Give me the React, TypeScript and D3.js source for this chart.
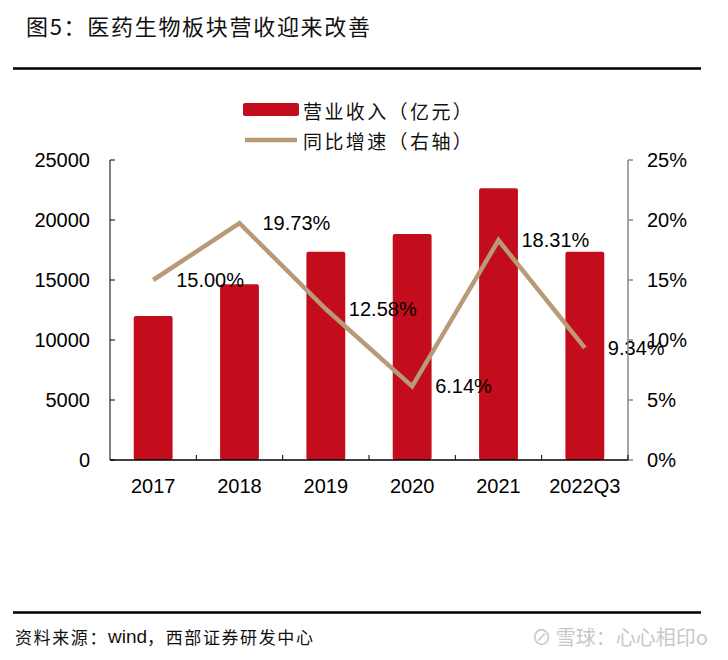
import React from "react";
import * as d3 from "d3";

const categories = ["2017", "2018", "2019", "2020", "2021", "2022Q3"];
const revenue = [12000, 14650, 17350, 18830, 22650, 17350];
const growth = [15.0, 19.73, 12.58, 6.14, 18.31, 9.34];
const leftTicks = [0, 5000, 10000, 15000, 20000, 25000];
const rightTicks = [0, 5, 10, 15, 20, 25];

const W = 728;
const H = 660;
const X0 = 110;
const X1 = 628;
const Y0 = 460;
const Y1 = 160;
const RED = "#C30D1C";
const TAN = "#B89A77";
const NUM_FONT = "'Liberation Sans', Arial, sans-serif";
const CJK_FONT = "'Noto Sans CJK SC', sans-serif";

export default function App() {
  const x = d3.scaleBand<string>().domain(categories).range([X0, X1]).padding(0);
  const yL = d3.scaleLinear().domain([0, 25000]).range([Y0, Y1]);
  const yR = d3.scaleLinear().domain([0, 25]).range([Y0, Y1]);
  const bw = x.bandwidth() * 0.45;
  const cx = (c: string) => (x(c) as number) + x.bandwidth() / 2;
  const line = d3
    .line<number>()
    .x((_, i) => cx(categories[i]))
    .y((d) => yR(d));
  const boundaries = categories.map((c) => (x(c) as number) + x.bandwidth());

  return (
    <svg
      width={W}
      height={H}
      style={{ position: "absolute", left: 0, top: 0, background: "#fff" }}
    >
      <rect x={0} y={0} width={W} height={H} fill="#fff" />
      <text x={26} y={25} dominantBaseline="central" fontFamily={CJK_FONT} fontSize={22} letterSpacing={1.7} fill="#111">
        图5：医药生物板块营收迎来改善
      </text>
      <line x1={13} x2={701} y1={68.5} y2={68.5} stroke="#000" strokeWidth={2.5} />

      {/* legend */}
      <rect x={243} y={103} width={56} height={13} rx={2} fill={RED} />
      <text x={303} y={110} dominantBaseline="central" fontFamily={CJK_FONT} fontSize={19} letterSpacing={2.4} fill="#111">
        营业收入（亿元）
      </text>
      <line x1={245} x2={297} y1={140} y2={140} stroke={TAN} strokeWidth={4.5} />
      <text x={303} y={140} dominantBaseline="central" fontFamily={CJK_FONT} fontSize={19} letterSpacing={2.4} fill="#111">
        同比增速（右轴）
      </text>

      {/* bars */}
      {categories.map((c, i) => (
        <rect
          key={c}
          x={cx(c) - bw / 2}
          y={yL(revenue[i])}
          width={bw}
          height={Y0 - yL(revenue[i])}
          rx={2}
          fill={RED}
        />
      ))}

      {/* line */}
      <path d={line(growth) || ""} fill="none" stroke={TAN} strokeWidth={4.5} strokeLinejoin="miter" />
      {growth.map((g, i) => (
        <text
          key={i}
          x={cx(categories[i]) + 23}
          y={yR(g)}
          dominantBaseline="central"
          fontFamily={NUM_FONT}
          fontSize={20}
          fill="#000"
        >
          {g.toFixed(2)}%
        </text>
      ))}

      {/* left axis */}
      <line x1={X0} x2={X0} y1={Y1} y2={Y0} stroke="#000" strokeWidth={1} />
      {leftTicks.map((t) => (
        <g key={t}>
          <line x1={X0} x2={X0 + 5} y1={yL(t)} y2={yL(t)} stroke="#000" />
          <text x={X0 - 20} y={yL(t)} textAnchor="end" dominantBaseline="central" fontFamily={NUM_FONT} fontSize={20} fill="#000">
            {t}
          </text>
        </g>
      ))}

      {/* right axis */}
      <line x1={X1} x2={X1} y1={Y1} y2={Y0} stroke="#888" strokeWidth={1.5} />
      {rightTicks.map((t) => (
        <g key={t}>
          <line x1={X1} x2={X1 + 5} y1={yR(t)} y2={yR(t)} stroke="#888" strokeWidth={1.5} />
          <text x={X1 + 19} y={yR(t)} dominantBaseline="central" fontFamily={NUM_FONT} fontSize={20} fill="#000">
            {t}%
          </text>
        </g>
      ))}

      {/* bottom axis */}
      <line x1={X0} x2={X1} y1={Y0} y2={Y0} stroke="#000" strokeWidth={1.5} />
      {boundaries.map((b, i) => (
        <line key={i} x1={b} x2={b} y1={Y0} y2={Y0 - 5} stroke="#000" />
      ))}
      {categories.map((c) => (
        <text key={c} x={cx(c)} y={486} textAnchor="middle" dominantBaseline="central" fontFamily={NUM_FONT} fontSize={20} fill="#000">
          {c}
        </text>
      ))}

      {/* footer */}
      <line x1={13} x2={701} y1={612.5} y2={612.5} stroke="#000" strokeWidth={2.5} />
      <text x={15} y={636} dominantBaseline="central" fontFamily={CJK_FONT} fontSize={17} letterSpacing={1.6} fill="#111">
        资料来源：
        <tspan fontFamily={NUM_FONT} fontSize={19} letterSpacing={0}>wind</tspan>，西部证券研发中心
      </text>
      <text x={708} y={636} textAnchor="end" dominantBaseline="central" fontFamily={CJK_FONT} fontSize={20} fill="#c8c8c8">
        ⊘ 雪球：心心相印o
      </text>
    </svg>
  );
}
